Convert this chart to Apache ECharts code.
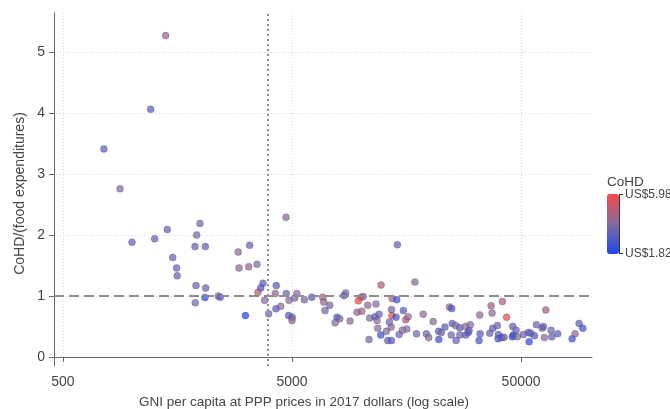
<!DOCTYPE html>
<html lang="en">
<head>
<meta charset="UTF-8">
<title>CoHD vs GNI</title>
<script src="https://cdn.jsdelivr.net/npm/echarts@6/dist/echarts.min.js"></script>
</head>
<body style="margin:0">
<div id="chart" style="width:670px;height:409px"></div>
<script>
// GNI per capita (PPP, 2017 $), CoHD/(food expenditures), CoHD in US$
var gni = [755, 1404, 1208, 887, 1001, 1427, 1257, 1507, 1567, 1577,
    1982, 1918, 1885, 2092, 1905, 2099, 1891, 2085, 2383, 2431,
    2913, 2935, 3236, 3267, 3516, 3131, 3736, 3651, 3552, 3799,
    3955, 4269, 4225, 4256, 4463, 4708, 4722, 4852, 4830, 5010,
    5000, 5140, 5250, 5658, 6097, 6808, 6878, 7304, 6969, 8436,
    8577, 7862, 8075, 7710, 8958, 10007, 9742, 10237, 9616, 10081,
    10706, 11623, 12240, 10915, 11524, 11995, 11756, 11835, 10842, 12208,
    12909, 13092, 13584, 13549, 13310, 13650, 13680, 14330, 14230, 14680,
    14420, 13600, 15320, 15690, 16060, 15850, 15170, 17200, 17480, 18700,
    19300, 19750, 20660, 21810, 21870, 22440, 23250, 24350, 24900, 25030,
    24780, 26030, 25900, 27010, 28570, 27010, 28670, 29340, 30020, 29650,
    33000, 32780, 33110, 36980, 37360, 36490, 37620, 39400, 39800, 39680,
    41430, 43270, 41190, 42150, 45990, 46280, 45810, 47560, 48180, 51170,
    53820, 55140, 54200, 57170, 58330, 61770, 62580, 64110, 63200, 67610,
    68090, 72330, 83500, 86060, 89600, 92990];
var ratio = [3.41, 5.27, 4.06, 2.76, 1.88, 2.09, 1.94, 1.63, 1.46, 1.33,
    2.19, 2.00, 1.81, 1.81, 1.17, 1.13, 0.89, 0.975, 1.00, 0.98,
    1.72, 1.46, 1.48, 1.83, 1.52, 0.68, 1.21, 1.13, 1.06, 0.93,
    0.71, 1.17, 1.04, 0.79, 0.83, 2.29, 1.04, 0.93, 0.68, 0.65,
    0.60, 0.965, 1.04, 0.94, 0.98, 0.98, 0.90, 0.85, 0.76, 1.01,
    1.05, 0.65, 0.625, 0.56, 0.59, 0.98, 0.92, 0.99, 0.735, 0.75,
    0.85, 0.87, 1.18, 0.64, 0.66, 0.70, 0.60, 0.47, 0.285, 0.36,
    0.42, 0.27, 0.27, 0.49, 0.575, 0.68, 0.96, 0.94, 0.65, 0.37,
    1.84, 0.78, 0.76, 0.61, 0.66, 0.46, 0.44, 1.23, 0.38, 0.70,
    0.38, 0.32, 0.58, 0.42, 0.285, 0.40, 0.49, 0.82, 0.795, 0.55,
    0.36, 0.27, 0.515, 0.48, 0.50, 0.36, 0.36, 0.40, 0.53, 0.43,
    0.69, 0.27, 0.38, 0.84, 0.72, 0.39, 0.47, 0.515, 0.37, 0.30,
    0.91, 0.65, 0.32, 0.325, 0.50, 0.36, 0.33, 0.44, 0.33, 0.37,
    0.40, 0.39, 0.25, 0.35, 0.53, 0.47, 0.50, 0.77, 0.32, 0.44,
    0.33, 0.38, 0.30, 0.38, 0.55, 0.47];
var cohd = [3.2, 4.3, 3.1, 3.9, 3.3, 3.3, 3.4, 3.4, 3.4, 3.4,
    3.6, 3.8, 3.3, 3.3, 3.4, 3.4, 3.6, 2.0, 4.3, 3.0,
    4.2, 4.2, 4.2, 3.3, 4.0, 2.0, 3.2, 2.8, 4.8, 4.0,
    3.6, 3.0, 4.2, 3.0, 4.2, 4.0, 3.5, 3.9, 3.1, 3.2,
    4.2, 3.7, 4.0, 3.6, 3.0, 4.5, 4.3, 3.7, 3.7, 2.4,
    3.6, 2.8, 3.9, 3.9, 4.1, 4.6, 5.9, 4.2, 4.2, 4.6,
    4.2, 4.0, 4.8, 4.0, 3.0, 3.5, 4.0, 4.0, 3.7, 2.5,
    4.0, 3.3, 3.0, 4.2, 3.6, 5.5, 4.5, 2.6, 2.8, 3.5,
    3.4, 3.6, 3.1, 4.8, 4.2, 4.0, 3.9, 4.0, 3.5, 4.2,
    3.6, 3.9, 4.0, 3.4, 2.5, 3.5, 3.2, 4.3, 2.8, 3.1,
    3.5, 3.4, 4.0, 3.1, 4.1, 3.5, 3.2, 3.4, 4.1, 3.1,
    4.3, 2.6, 3.1, 4.4, 4.1, 3.4, 3.2, 3.5, 3.4, 2.6,
    4.6, 5.6, 3.0, 3.4, 3.2, 2.3, 2.4, 3.4, 3.9, 3.5,
    3.1, 3.4, 2.2, 3.0, 3.5, 4.0, 3.1, 4.5, 4.0, 3.5,
    3.2, 3.2, 2.5, 4.2, 3.2, 2.6];

var xTicks = [500, 5000, 50000];
var yTicks = [0, 1, 2, 3, 4, 5];
var cohdMin = 1.82, cohdMax = 5.98;
var incomeCut = 3930;

var points = [];
for (var i = 0; i < gni.length; i++) {
    points.push([gni[i], ratio[i], cohd[i]]);
}

var font = 'Liberation Sans, Arial, sans-serif';
var myChart = echarts.init(document.getElementById('chart'));

var option = {
    backgroundColor: '#fff',
    animation: false,
    grid: {left: 54, right: 78, top: 13, bottom: 43, outerBoundsMode: 'none'},
    xAxis: {
        type: 'log',
        logBase: 10,
        min: 457,
        max: 102000,
        name: 'GNI per capita at PPP prices in 2017 dollars (log scale)',
        nameLocation: 'middle',
        nameGap: 29,
        nameMoveOverlap: false,
        nameTextStyle: {color: '#444', fontSize: 13.5, fontFamily: font, padding: [0, 38, 0, 0]},
        axisLine: {show: true, lineStyle: {color: '#666', width: 1}},
        axisTick: {show: true, customValues: xTicks, length: 5, lineStyle: {color: '#666'}},
        axisLabel: {
            customValues: xTicks, color: '#444', fontSize: 14, fontFamily: font, margin: 9,
            formatter: function (v) { return String(Math.round(v)); }
        },
        splitLine: {show: true, lineStyle: {color: '#d9d9d9', type: [1, 2], width: 1}},
        minorTick: {show: false}
    },
    yAxis: {
        type: 'value',
        min: -0.148,
        max: 5.64,
        name: 'CoHD/(food expenditures)',
        nameLocation: 'middle',
        nameGap: 27,
        nameMoveOverlap: false,
        nameTextStyle: {color: '#444', fontSize: 14, fontFamily: font, padding: [0, 8, 0, 0]},
        axisLine: {show: true, lineStyle: {color: '#666', width: 1}},
        axisTick: {show: true, customValues: yTicks, length: 5, lineStyle: {color: '#666'}},
        axisLabel: {customValues: yTicks, color: '#444', fontSize: 14, fontFamily: font, margin: 9},
        splitLine: {show: true, lineStyle: {color: '#d9d9d9', type: [1, 2], width: 1}}
    },
    visualMap: {
        type: 'continuous',
        min: cohdMin,
        max: cohdMax,
        dimension: 2,
        seriesIndex: 0,
        orient: 'vertical',
        left: 607,
        top: 194,
        itemWidth: 12,
        itemHeight: 60,
        padding: 0,
        calculable: false,
        hoverLink: false,
        inRange: {color: ['#1e46f0', '#826c9e', '#f84848']}
    },
    graphic: [
        {type: 'text', left: 607, top: 175, style: {text: 'CoHD', fontSize: 13.5, fontFamily: font, fill: '#444'}},
        {type: 'line', shape: {x1: 619.5, y1: 194, x2: 619.5, y2: 254}, style: {stroke: '#333', lineWidth: 1}},
        {type: 'line', shape: {x1: 619, y1: 194.5, x2: 623, y2: 194.5}, style: {stroke: '#333', lineWidth: 1}},
        {type: 'line', shape: {x1: 619, y1: 253.5, x2: 623, y2: 253.5}, style: {stroke: '#333', lineWidth: 1}},
        {type: 'text', x: 625, y: 195, style: {text: 'US$' + cohdMax.toFixed(2), fontSize: 12, fontFamily: font, fill: '#444', verticalAlign: 'middle'}},
        {type: 'text', x: 625, y: 254, style: {text: 'US$' + cohdMin.toFixed(2), fontSize: 12, fontFamily: font, fill: '#444', verticalAlign: 'middle'}}
    ],
    series: [{
        type: 'scatter',
        data: points,
        symbolSize: 7,
        itemStyle: {opacity: 0.72, borderColor: 'rgba(40,40,80,0.4)', borderWidth: 0.8},
        markLine: {
            silent: true,
            symbol: 'none',
            label: {show: false},
            data: [
                {yAxis: 1, lineStyle: {color: '#8c8c8c', width: 2, type: [10, 5]}},
                {xAxis: incomeCut, lineStyle: {color: '#8c8c8c', width: 2, type: [2, 3]}}
            ]
        }
    }]
};

myChart.setOption(option);
</script>
</body>
</html>
